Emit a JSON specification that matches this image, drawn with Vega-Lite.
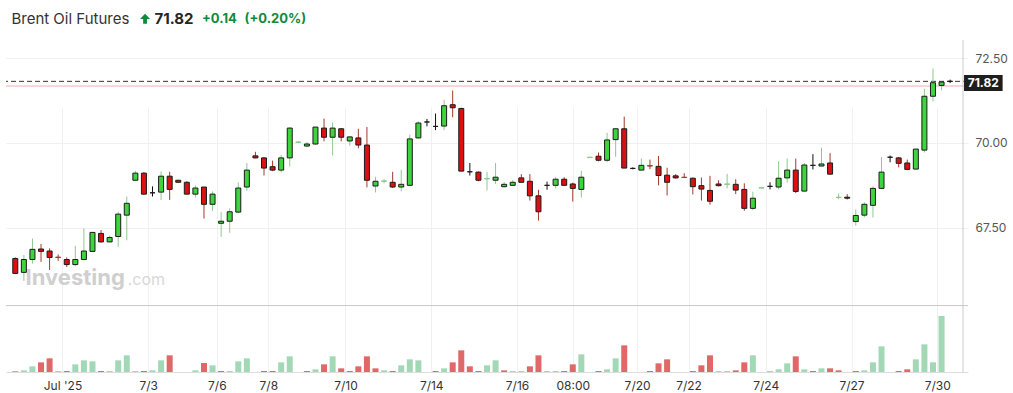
{
  "$schema": "https://vega.github.io/schema/vega-lite/v6.json",
  "width": 962,
  "height": 332,
  "autosize": {"type": "none"},
  "padding": {"left": 6, "top": 40, "right": 45, "bottom": 21},
  "background": "#ffffff",
  "config": {"view": {"stroke": null}, "font": "Inter"},
  "data": {"values": [
    {"i":1,"o":66.59,"h":66.62,"l":66.13,"c":66.15,"v":2,"vu":false},
    {"i":2,"o":66.18,"h":66.69,"l":65.93,"c":66.56,"v":5,"vu":true},
    {"i":3,"o":66.56,"h":67.18,"l":66.44,"c":66.86,"v":17,"vu":true},
    {"i":4,"o":66.87,"h":67.02,"l":66.49,"c":66.80,"v":29,"vu":false},
    {"i":5,"o":66.81,"h":66.89,"l":66.25,"c":66.62,"v":41,"vu":false},
    {"i":6,"o":66.63,"h":66.71,"l":66.52,"c":66.62,"v":3,"vu":true},
    {"i":7,"o":66.56,"h":66.62,"l":66.34,"c":66.41,"v":3,"vu":false},
    {"i":8,"o":66.41,"h":66.96,"l":66.36,"c":66.56,"v":23,"vu":true},
    {"i":9,"o":66.56,"h":67.48,"l":66.54,"c":66.81,"v":35,"vu":true},
    {"i":10,"o":66.80,"h":67.37,"l":66.78,"c":67.36,"v":32,"vu":true},
    {"i":11,"o":67.33,"h":67.43,"l":67.06,"c":67.08,"v":3,"vu":false},
    {"i":12,"o":67.08,"h":67.27,"l":67.07,"c":67.21,"v":3,"vu":true},
    {"i":13,"o":67.24,"h":67.97,"l":66.94,"c":67.90,"v":35,"vu":true},
    {"i":14,"o":67.87,"h":68.42,"l":67.13,"c":68.22,"v":50,"vu":true},
    {"i":15,"o":68.90,"h":69.18,"l":68.89,"c":69.11,"v":3,"vu":true},
    {"i":16,"o":69.11,"h":69.14,"l":68.48,"c":68.49,"v":3,"vu":false},
    {"i":17,"o":68.53,"h":68.72,"l":68.42,"c":68.53,"v":5,"vu":true},
    {"i":18,"o":68.55,"h":69.16,"l":68.32,"c":69.02,"v":35,"vu":true},
    {"i":19,"o":69.02,"h":69.15,"l":68.32,"c":68.63,"v":50,"vu":false},
    {"i":20,"o":68.90,"h":68.91,"l":68.83,"c":68.84,"v":0,"vu":false},
    {"i":21,"o":68.84,"h":68.87,"l":68.49,"c":68.49,"v":0,"vu":false},
    {"i":22,"o":68.49,"h":68.75,"l":68.39,"c":68.67,"v":5,"vu":true},
    {"i":23,"o":68.70,"h":68.70,"l":67.77,"c":68.19,"v":27,"vu":false},
    {"i":24,"o":68.19,"h":68.57,"l":67.99,"c":68.49,"v":20,"vu":true},
    {"i":25,"o":67.63,"h":67.96,"l":67.23,"c":67.69,"v":3,"vu":false},
    {"i":26,"o":67.69,"h":68.07,"l":67.35,"c":67.97,"v":3,"vu":true},
    {"i":27,"o":67.96,"h":68.84,"l":67.92,"c":68.67,"v":32,"vu":true},
    {"i":28,"o":68.70,"h":69.41,"l":68.59,"c":69.20,"v":41,"vu":true},
    {"i":29,"o":69.62,"h":69.74,"l":69.55,"c":69.56,"v":0,"vu":false},
    {"i":30,"o":69.56,"h":69.58,"l":69.04,"c":69.26,"v":3,"vu":false},
    {"i":31,"o":69.30,"h":69.48,"l":69.17,"c":69.20,"v":3,"vu":false},
    {"i":32,"o":69.20,"h":69.65,"l":69.13,"c":69.56,"v":29,"vu":true},
    {"i":33,"o":69.56,"h":70.47,"l":69.31,"c":70.44,"v":47,"vu":true},
    {"i":34,"o":70.02,"h":70.05,"l":70.00,"c":70.03,"v":0,"vu":false},
    {"i":35,"o":69.91,"h":70.03,"l":69.88,"c":69.97,"v":3,"vu":false},
    {"i":36,"o":69.97,"h":70.47,"l":69.94,"c":70.47,"v":8,"vu":true},
    {"i":37,"o":70.44,"h":70.72,"l":70.05,"c":70.17,"v":23,"vu":false},
    {"i":38,"o":70.17,"h":70.61,"l":69.63,"c":70.44,"v":47,"vu":true},
    {"i":39,"o":70.42,"h":70.44,"l":70.05,"c":70.17,"v":11,"vu":false},
    {"i":40,"o":70.06,"h":70.20,"l":69.92,"c":70.18,"v":3,"vu":false},
    {"i":41,"o":70.15,"h":70.42,"l":69.84,"c":69.94,"v":17,"vu":false},
    {"i":42,"o":69.94,"h":70.47,"l":68.69,"c":68.90,"v":47,"vu":false},
    {"i":43,"o":68.73,"h":69.00,"l":68.54,"c":68.87,"v":11,"vu":false},
    {"i":44,"o":68.87,"h":68.93,"l":68.81,"c":68.88,"v":5,"vu":true},
    {"i":45,"o":68.84,"h":69.15,"l":68.67,"c":68.70,"v":3,"vu":false},
    {"i":46,"o":68.70,"h":69.21,"l":68.57,"c":68.78,"v":20,"vu":true},
    {"i":47,"o":68.75,"h":70.25,"l":68.75,"c":70.12,"v":38,"vu":true},
    {"i":48,"o":70.15,"h":70.64,"l":70.13,"c":70.59,"v":35,"vu":true},
    {"i":49,"o":70.62,"h":70.71,"l":70.49,"c":70.62,"v":0,"vu":true},
    {"i":50,"o":70.49,"h":70.87,"l":70.38,"c":70.49,"v":3,"vu":false},
    {"i":51,"o":70.50,"h":71.28,"l":70.38,"c":71.10,"v":11,"vu":true},
    {"i":52,"o":71.13,"h":71.55,"l":70.76,"c":71.04,"v":29,"vu":false},
    {"i":53,"o":71.02,"h":71.04,"l":69.17,"c":69.17,"v":65,"vu":false},
    {"i":54,"o":69.15,"h":69.41,"l":69.04,"c":69.15,"v":17,"vu":false},
    {"i":55,"o":69.14,"h":69.16,"l":68.87,"c":68.90,"v":3,"vu":false},
    {"i":56,"o":68.94,"h":69.15,"l":68.60,"c":68.95,"v":20,"vu":true},
    {"i":57,"o":68.90,"h":69.41,"l":68.79,"c":68.99,"v":35,"vu":true},
    {"i":58,"o":68.71,"h":68.85,"l":68.69,"c":68.78,"v":5,"vu":false},
    {"i":59,"o":68.75,"h":68.90,"l":68.75,"c":68.84,"v":3,"vu":true},
    {"i":60,"o":68.97,"h":69.08,"l":68.83,"c":68.84,"v":3,"vu":true},
    {"i":61,"o":68.87,"h":69.08,"l":68.30,"c":68.44,"v":17,"vu":false},
    {"i":62,"o":68.44,"h":68.62,"l":67.71,"c":67.97,"v":50,"vu":false},
    {"i":63,"o":68.75,"h":68.86,"l":68.62,"c":68.75,"v":3,"vu":true},
    {"i":64,"o":68.75,"h":68.99,"l":68.66,"c":68.93,"v":3,"vu":true},
    {"i":65,"o":68.93,"h":68.99,"l":68.75,"c":68.75,"v":3,"vu":false},
    {"i":66,"o":68.79,"h":68.83,"l":68.27,"c":68.66,"v":23,"vu":false},
    {"i":67,"o":68.63,"h":69.18,"l":68.39,"c":68.99,"v":53,"vu":true},
    {"i":68,"o":69.57,"h":69.60,"l":69.56,"c":69.58,"v":0,"vu":true},
    {"i":69,"o":69.61,"h":69.72,"l":69.46,"c":69.49,"v":3,"vu":false},
    {"i":70,"o":69.49,"h":70.30,"l":69.43,"c":70.09,"v":8,"vu":true},
    {"i":71,"o":70.10,"h":70.42,"l":69.59,"c":70.42,"v":41,"vu":true},
    {"i":72,"o":70.42,"h":70.78,"l":69.26,"c":69.26,"v":80,"vu":false},
    {"i":73,"o":69.25,"h":69.28,"l":69.22,"c":69.25,"v":0,"vu":false},
    {"i":74,"o":69.20,"h":69.54,"l":69.20,"c":69.34,"v":0,"vu":true},
    {"i":75,"o":69.33,"h":69.51,"l":69.23,"c":69.32,"v":3,"vu":false},
    {"i":76,"o":69.31,"h":69.62,"l":68.75,"c":69.04,"v":26,"vu":false},
    {"i":77,"o":69.05,"h":69.27,"l":68.45,"c":68.84,"v":38,"vu":false},
    {"i":78,"o":69.03,"h":69.08,"l":68.95,"c":68.97,"v":0,"vu":false},
    {"i":79,"o":68.99,"h":69.11,"l":68.97,"c":68.98,"v":0,"vu":false},
    {"i":80,"o":68.96,"h":68.98,"l":68.48,"c":68.71,"v":3,"vu":false},
    {"i":81,"o":68.74,"h":68.98,"l":68.30,"c":68.64,"v":20,"vu":false},
    {"i":82,"o":68.60,"h":69.03,"l":68.18,"c":68.28,"v":50,"vu":false},
    {"i":83,"o":68.79,"h":68.90,"l":68.72,"c":68.74,"v":3,"vu":true},
    {"i":84,"o":68.78,"h":69.09,"l":68.66,"c":68.79,"v":3,"vu":true},
    {"i":85,"o":68.78,"h":68.93,"l":68.49,"c":68.61,"v":5,"vu":false},
    {"i":86,"o":68.63,"h":68.81,"l":68.00,"c":68.07,"v":29,"vu":false},
    {"i":87,"o":68.07,"h":68.56,"l":68.02,"c":68.37,"v":50,"vu":true},
    {"i":88,"o":68.67,"h":68.69,"l":68.66,"c":68.68,"v":0,"vu":true},
    {"i":89,"o":68.72,"h":68.84,"l":68.63,"c":68.72,"v":3,"vu":true},
    {"i":90,"o":68.70,"h":69.46,"l":68.63,"c":68.96,"v":8,"vu":true},
    {"i":91,"o":68.97,"h":69.54,"l":68.83,"c":69.20,"v":26,"vu":true},
    {"i":92,"o":69.20,"h":69.54,"l":68.52,"c":68.57,"v":47,"vu":false},
    {"i":93,"o":68.58,"h":69.41,"l":68.57,"c":69.35,"v":8,"vu":true},
    {"i":94,"o":69.34,"h":69.67,"l":69.22,"c":69.34,"v":3,"vu":false},
    {"i":95,"o":69.32,"h":69.86,"l":69.31,"c":69.38,"v":11,"vu":true},
    {"i":96,"o":69.41,"h":69.70,"l":69.07,"c":69.08,"v":11,"vu":false},
    {"i":97,"o":68.39,"h":68.51,"l":68.34,"c":68.40,"v":5,"vu":false},
    {"i":98,"o":68.40,"h":68.49,"l":68.33,"c":68.37,"v":0,"vu":false},
    {"i":99,"o":67.68,"h":68.04,"l":67.56,"c":67.86,"v":3,"vu":false},
    {"i":100,"o":67.87,"h":68.25,"l":67.81,"c":68.19,"v":5,"vu":true},
    {"i":101,"o":68.16,"h":68.72,"l":67.80,"c":68.66,"v":29,"vu":true},
    {"i":102,"o":68.66,"h":69.58,"l":68.66,"c":69.14,"v":77,"vu":true},
    {"i":103,"o":69.58,"h":69.63,"l":69.43,"c":69.58,"v":0,"vu":true},
    {"i":104,"o":69.56,"h":69.59,"l":69.28,"c":69.40,"v":3,"vu":false},
    {"i":105,"o":69.41,"h":69.51,"l":69.20,"c":69.22,"v":8,"vu":false},
    {"i":106,"o":69.23,"h":69.83,"l":69.22,"c":69.82,"v":38,"vu":true},
    {"i":107,"o":69.79,"h":71.60,"l":69.72,"c":71.38,"v":83,"vu":true},
    {"i":108,"o":71.38,"h":72.20,"l":71.23,"c":71.78,"v":29,"vu":true},
    {"i":109,"o":71.70,"h":71.81,"l":71.56,"c":71.80,"v":168,"vu":true},
    {"i":110,"o":71.82,"h":71.87,"l":71.77,"c":71.82,"v":0,"vu":true}
  ]},
  "resolve": {"scale": {"y": "independent"}},
  "layer": [
    {
      "layer": [
        {
          "data": {"values": [{}]},
          "mark": {"type": "rule", "stroke": "#f6caca", "strokeWidth": 1.5},
          "encoding": {
            "y": {"datum": 71.68, "type": "quantitative", "scale": {"domain": [65.217, 73.041], "range": [265, 0], "nice": false, "zero": false},
              "axis": {"orient": "right", "values": [67.5, 70, 72.5], "format": ".2f", "title": null, "grid": true, "gridColor": "#f0f0f0", "ticks": false, "domain": false, "labelColor": "#555", "labelFont": "Inter", "labelFontSize": 12, "labelPadding": 7}}
          }
        },
        {
          "data": {"values": [{}]},
          "mark": {"type": "rule", "stroke": "#333333", "strokeWidth": 1, "strokeDash": [5, 3]},
          "encoding": {
            "y": {"datum": 71.82, "type": "quantitative", "scale": {"domain": [65.217, 73.041], "range": [265, 0], "nice": false, "zero": false}}
          }
        },
        {
          "data": {"values": [{}]},
          "mark": {"type": "rule", "stroke": "#c8c8c8", "strokeWidth": 1},
          "encoding": {
            "y": {"datum": 65.2, "type": "quantitative", "scale": {"domain": [65.217, 73.041], "range": [265, 0], "nice": false, "zero": false}}
          }
        },
        {
          "data": {"values": [{}]},
          "mark": {"type": "text", "align": "left", "baseline": "alphabetic", "font": "Inter", "fontSize": 22, "fontWeight": "bold", "color": "#cfcfcf", "text": "Investing"},
          "encoding": {
            "x": {"datum": 2.2, "type": "quantitative", "scale": {"domain": [0.5, 111.5], "nice": false, "zero": false}},
            "y": {"datum": 65.807, "type": "quantitative", "scale": {"domain": [65.217, 73.041], "range": [265, 0], "nice": false, "zero": false}}
          }
        },
        {
          "data": {"values": [{}]},
          "mark": {"type": "text", "align": "left", "baseline": "alphabetic", "font": "Inter", "fontSize": 16, "color": "#d8d8d8", "text": ".com"},
          "encoding": {
            "x": {"datum": 14.1, "type": "quantitative", "scale": {"domain": [0.5, 111.5], "nice": false, "zero": false}},
            "y": {"datum": 65.807, "type": "quantitative", "scale": {"domain": [65.217, 73.041], "range": [265, 0], "nice": false, "zero": false}}
          }
        },
        {
          "mark": {"type": "rule", "strokeWidth": 1},
          "encoding": {
            "x": {"field": "i", "type": "quantitative", "scale": {"domain": [0.5, 111.5], "nice": false, "zero": false},
              "axis": {"values": [6.5, 16.5, 24.5, 30.5, 39.5, 49.5, 59.5, 66, 73.5, 79.5, 88.5, 98.5, 108.5],
                "labelExpr": "[\"Jul '25\",\"7/3\",\"7/6\",\"7/8\",\"7/10\",\"7/14\",\"7/16\",\"08:00\",\"7/20\",\"7/22\",\"7/24\",\"7/27\",\"7/30\"][indexof([6.5,16.5,24.5,30.5,39.5,49.5,59.5,66,73.5,79.5,88.5,98.5,108.5], datum.value)]",
                "title": null, "ticks": false, "grid": true, "gridColor": "#f0f0f0", "domain": true, "domainColor": "#dddddd", "labelFont": "Inter", "labelFontSize": 12, "labelColor": "#333333", "labelPadding": 8, "labelFlush": false, "labelOverlap": false}},
            "y": {"field": "l", "type": "quantitative", "scale": {"domain": [65.217, 73.041], "range": [265, 0], "nice": false, "zero": false}},
            "y2": {"field": "h"},
            "color": {"condition": [{"test": "datum.c > datum.o", "value": "#8fc88f"}, {"test": "datum.c < datum.o", "value": "#a23a28"}], "value": "#111111"}
          }
        },
        {
          "mark": {"type": "bar", "width": 5, "strokeWidth": 1},
          "encoding": {
            "x": {"field": "i", "type": "quantitative", "scale": {"domain": [0.5, 111.5], "nice": false, "zero": false}},
            "y": {"field": "o", "type": "quantitative", "scale": {"domain": [65.217, 73.041], "range": [265, 0], "nice": false, "zero": false}},
            "y2": {"field": "c"},
            "fill": {"condition": [{"test": "datum.c > datum.o", "value": "#3dd43d"}, {"test": "datum.c < datum.o", "value": "#dc1010"}], "value": "#111111"},
            "stroke": {"condition": [{"test": "datum.c > datum.o && datum.c - datum.o < 0.015", "value": "#8fc88f"}, {"test": "datum.c < datum.o && datum.o - datum.c < 0.015", "value": "#a23a28"}], "value": "#1b1b1b"}
          }
        },
        {
          "data": {"values": [{}]},
          "mark": {"type": "text", "align": "left", "baseline": "alphabetic", "font": "Inter", "fontSize": 15, "color": "#333333", "text": "Brent Oil Futures"},
          "encoding": {
            "x": {"datum": 0.55, "type": "quantitative", "scale": {"domain": [0.5, 111.5], "nice": false, "zero": false}},
            "y": {"datum": 73.52, "type": "quantitative", "scale": {"domain": [65.217, 73.041], "range": [265, 0], "nice": false, "zero": false}}
          }
        },
        {
          "data": {"values": [{}]},
          "mark": {"type": "point", "filled": true, "size": 100, "color": "#0e8a3a", "opacity": 1, "shape": "M0,-1L1,0.05L0.38,0.05L0.38,1L-0.38,1L-0.38,0.05L-1,0.05Z"},
          "encoding": {
            "x": {"datum": 16.13, "type": "quantitative", "scale": {"domain": [0.5, 111.5], "nice": false, "zero": false}},
            "y": {"datum": 73.67, "type": "quantitative", "scale": {"domain": [65.217, 73.041], "range": [265, 0], "nice": false, "zero": false}}
          }
        },
        {
          "data": {"values": [{}]},
          "mark": {"type": "text", "align": "left", "baseline": "alphabetic", "font": "Inter", "fontSize": 15, "fontWeight": "bold", "color": "#232526", "text": "71.82"},
          "encoding": {
            "x": {"datum": 17.23, "type": "quantitative", "scale": {"domain": [0.5, 111.5], "nice": false, "zero": false}},
            "y": {"datum": 73.52, "type": "quantitative", "scale": {"domain": [65.217, 73.041], "range": [265, 0], "nice": false, "zero": false}}
          }
        },
        {
          "data": {"values": [{}]},
          "mark": {"type": "text", "align": "left", "baseline": "alphabetic", "font": "Inter", "fontSize": 13, "fontWeight": "bold", "color": "#0e8a3a", "text": "+0.14"},
          "encoding": {
            "x": {"datum": 22.77, "type": "quantitative", "scale": {"domain": [0.5, 111.5], "nice": false, "zero": false}},
            "y": {"datum": 73.53, "type": "quantitative", "scale": {"domain": [65.217, 73.041], "range": [265, 0], "nice": false, "zero": false}}
          }
        },
        {
          "data": {"values": [{}]},
          "mark": {"type": "text", "align": "left", "baseline": "alphabetic", "font": "Inter", "fontSize": 13, "fontWeight": "bold", "color": "#0e8a3a", "text": "(+0.20%)"},
          "encoding": {
            "x": {"datum": 27.73, "type": "quantitative", "scale": {"domain": [0.5, 111.5], "nice": false, "zero": false}},
            "y": {"datum": 73.53, "type": "quantitative", "scale": {"domain": [65.217, 73.041], "range": [265, 0], "nice": false, "zero": false}}
          }
        },
        {
          "data": {"values": [{}]},
          "mark": {"type": "rect", "color": "#1e1e1e"},
          "encoding": {
            "x": {"datum": 111.62, "type": "quantitative", "scale": {"domain": [0.5, 111.5], "nice": false, "zero": false}},
            "x2": {"datum": 116.12},
            "y": {"datum": 72.008, "type": "quantitative", "scale": {"domain": [65.217, 73.041], "range": [265, 0], "nice": false, "zero": false}},
            "y2": {"datum": 71.535}
          }
        },
        {
          "data": {"values": [{}]},
          "mark": {"type": "text", "align": "center", "baseline": "middle", "font": "Inter", "fontSize": 12, "fontWeight": "bold", "color": "#ffffff", "text": "71.82"},
          "encoding": {
            "x": {"datum": 113.86, "type": "quantitative", "scale": {"domain": [0.5, 111.5], "nice": false, "zero": false}},
            "y": {"datum": 71.771, "type": "quantitative", "scale": {"domain": [65.217, 73.041], "range": [265, 0], "nice": false, "zero": false}}
          }
        }
      ]
    },
    {
      "layer": [
        {
          "mark": {"type": "bar", "width": 6},
          "encoding": {
            "x": {"field": "i", "type": "quantitative", "scale": {"domain": [0.5, 111.5], "nice": false, "zero": false}},
            "y": {"field": "v", "type": "quantitative", "scale": {"domain": [0, 198], "range": [332, 266], "nice": false, "zero": false}, "axis": null},
            "color": {"condition": {"test": "datum.vu", "value": "#a3d8b6"}, "value": "#e06868"}
          }
        },
        {
          "data": {"values": [{}]},
          "mark": {"type": "rule", "stroke": "#cccccc", "strokeWidth": 1},
          "encoding": {
            "x": {"datum": 111.5, "type": "quantitative", "scale": {"domain": [0.5, 111.5], "nice": false, "zero": false}}
          }
        }
      ]
    }
  ]
}
